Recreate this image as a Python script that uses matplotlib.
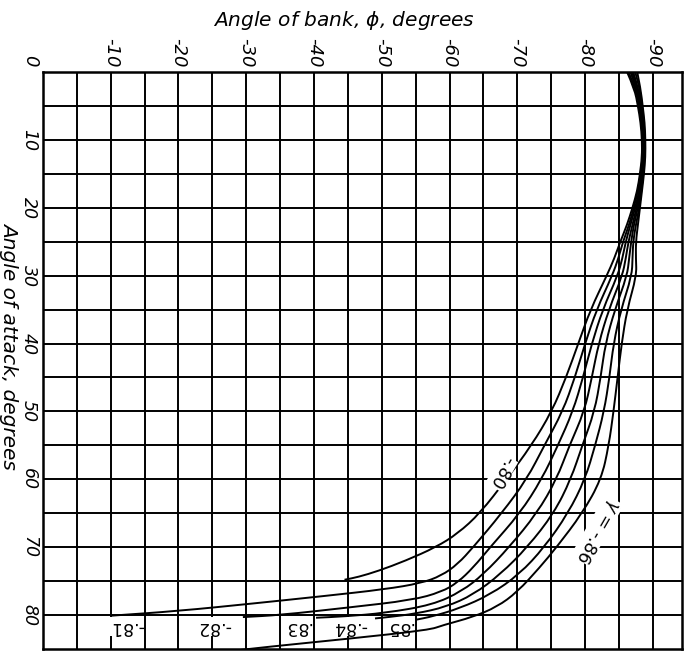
import matplotlib
matplotlib.use('Agg')
import matplotlib.pyplot as plt
from matplotlib.path import Path
from matplotlib.patches import PathPatch

# Angle of attack (deg) -> angle of bank phi (deg), one list per gamma curve.
# Upper part: the curves run together in one band.
alpha_top = [0, 2.5, 5, 7.5, 10, 12.5, 15, 17.5, 20, 22.5, 25, 27.5, 30, 35, 40, 45, 50, 55, 60, 65]

phi_080 = [-86.2, -87.3, -87.8, -88.2, -88.4, -88.4, -88.1, -87.7, -87.0, -86.2, -85.2, -84.3, -83.2, -80.8, -79.0, -77.2, -75.1, -72.1, -68.4, -64.5]
phi_081 = [-86.4, -87.5, -88.0, -88.3, -88.5, -88.5, -88.2, -87.8, -87.2, -86.5, -85.6, -84.9, -84.0, -81.7, -80.0, -78.5, -76.7, -74.0, -71.4, -67.7]
phi_082 = [-86.7, -87.6, -88.1, -88.4, -88.6, -88.6, -88.3, -88.0, -87.4, -86.7, -86.0, -85.5, -84.8, -82.6, -81.0, -79.7, -78.2, -76.0, -73.6, -70.4]
phi_083 = [-86.9, -87.8, -88.2, -88.5, -88.7, -88.7, -88.4, -88.1, -87.6, -87.0, -86.4, -86.0, -85.5, -83.5, -82.0, -81.0, -79.9, -77.7, -75.8, -72.9]
phi_084 = [-87.1, -87.9, -88.3, -88.6, -88.7, -88.7, -88.5, -88.2, -87.8, -87.2, -86.8, -86.5, -86.2, -84.4, -83.0, -82.3, -81.4, -79.6, -77.9, -75.4]
phi_085 = [-87.4, -88.1, -88.4, -88.7, -88.8, -88.8, -88.6, -88.3, -88.0, -87.5, -87.1, -87.0, -86.9, -85.3, -84.2, -83.6, -82.8, -81.5, -80.0, -77.5]
phi_086 = [-87.7, -88.2, -88.5, -88.8, -88.9, -88.9, -88.7, -88.4, -88.1, -87.8, -87.5, -87.5, -87.6, -86.2, -85.4, -84.8, -84.2, -83.5, -82.4, -79.6]

# lower tails (alpha, phi) where the curves sweep out and flatten
tail_080 = ([68, 70, 72, 73.5, 74.4, 74.8], [-61.2, -58.0, -53.5, -49.5, -46.5, -44.5])
tail_081 = ([70, 72.5, 74.2, 75.3, 76.2, 77.2, 78.3, 79.4, 80.1], [-63.5, -61.2, -58.8, -55.8, -50.5, -41.5, -31.0, -20.0, -10.0])
tail_082 = ([70, 73, 75.2, 76.6, 77.8, 78.9, 80.0, 80.3], [-66.0, -63.5, -61.2, -58.8, -54.5, -45.0, -35.0, -29.5])
tail_083 = ([70, 74, 76.5, 78.5, 79.7, 80.2, 80.4], [-68.8, -65.0, -61.8, -57.5, -50.5, -44.5, -40.3])
tail_084 = ([70, 74, 77, 78.8, 79.8, 80.3, 80.5], [-71.5, -67.5, -63.5, -59.5, -55.0, -51.0, -49.0])
tail_085 = ([70, 74, 77, 79, 80.2, 80.7], [-74.0, -70.3, -66.0, -61.5, -57.5, -55.0])
tail_086 = ([70, 73, 76.6, 78.8, 80.3, 81.5, 82.2, 83.5, 84.7, 85.5], [-75.8, -73.3, -70.0, -67.0, -63.4, -59.0, -57.0, -45.0, -33.0, -26.0])

curves = [
    ('-.80', phi_080, tail_080),
    ('-.81', phi_081, tail_081),
    ('-.82', phi_082, tail_082),
    ('-.83', phi_083, tail_083),
    ('-.84', phi_084, tail_084),
    ('-.85', phi_085, tail_085),
    ('-.86', phi_086, tail_086),
]

x_ticks = [0, -10, -20, -30, -40, -50, -60, -70, -80, -90]
x_ticklabels = ['', '-10', '-20', '-30', '-40', '-50', '-60', '-70', '-80', '-90']
y_ticks = [0, 10, 20, 30, 40, 50, 60, 70, 80]
y_ticklabels = ['', '10', '20', '30', '40', '50', '60', '70', '80']


def smooth_path(xs, ys):
    # quadratic bezier through the midpoints, data points act as controls
    verts = [(xs[0], ys[0])]
    codes = [Path.MOVETO]
    for i in range(1, len(xs) - 1):
        verts += [(xs[i], ys[i]), ((xs[i] + xs[i + 1]) / 2, (ys[i] + ys[i + 1]) / 2)]
        codes += [Path.CURVE3, Path.CURVE3]
    verts.append((xs[-1], ys[-1]))
    codes.append(Path.LINETO)
    return Path(verts, codes)


fig = plt.figure(figsize=(6.92, 6.51), dpi=100)
ax = fig.add_axes([0.0621, 0.0031, 0.9234, 0.8863])
ax.set_xlim(0, -94.3)
ax.set_ylim(85, 0)

# 5-degree grid
for v in range(-5, -95, -5):
    ax.axvline(v, color='black', lw=1.4, zorder=1)
for v in range(5, 85, 5):
    ax.axhline(v, color='black', lw=1.4, zorder=1)
for s in ax.spines.values():
    s.set_linewidth(1.8)

for name, phi, tail in curves:
    a = alpha_top + tail[0]
    p = phi + tail[1]
    ax.add_patch(PathPatch(smooth_path(p, a), fill=False, edgecolor='black',
                           lw=1.4, zorder=3))

ax.xaxis.tick_top()
ax.set_xticks(x_ticks)
ax.set_xticklabels(x_ticklabels, rotation=-90, fontsize=13, style='italic')
ax.set_yticks(y_ticks)
ax.set_yticklabels(y_ticklabels, rotation=-90, fontsize=12.5, style='italic', va='center')
ax.tick_params(length=0, pad=3.6)

fig.text(30 / 692, 1 - 61 / 651, '0', ha='center', va='center', fontsize=13,
         style='italic', rotation=-90)
fig.text(0.497, 0.969, 'Angle of bank, $\\phi$, degrees', ha='center', va='center',
         fontsize=14.5, style='italic')
fig.text(0.0135, 0.47, 'Angle of attack, degrees', ha='center', va='center',
         fontsize=14.5, style='italic', rotation=-90)

# curve labels (upside down, as on the original sheet)
box = dict(facecolor='white', edgecolor='none', pad=0.1)
lab_kw = dict(fontsize=12.5, rotation=180, ha='center', va='center', bbox=box, zorder=2)
ax.text(-12.4, 81.7, '-.81', **lab_kw)
ax.text(-25.2, 81.7, '-.82', **lab_kw)
ax.text(-37.5, 81.7, '.83', **lab_kw)
ax.text(-45.3, 81.7, '-.84', **lab_kw)
ax.text(-52.6, 81.7, '.85', **lab_kw)
ax.text(-67.7, 59.0, '-.80', fontsize=12.5, rotation=-120, ha='center', va='center',
        bbox=box, zorder=4)
ax.text(-81.8, 67.5, '$\\gamma$ = -.86', fontsize=12.5, rotation=-120, ha='center',
        va='center', bbox=box, zorder=4)

fig.savefig('out.png', dpi=100)
